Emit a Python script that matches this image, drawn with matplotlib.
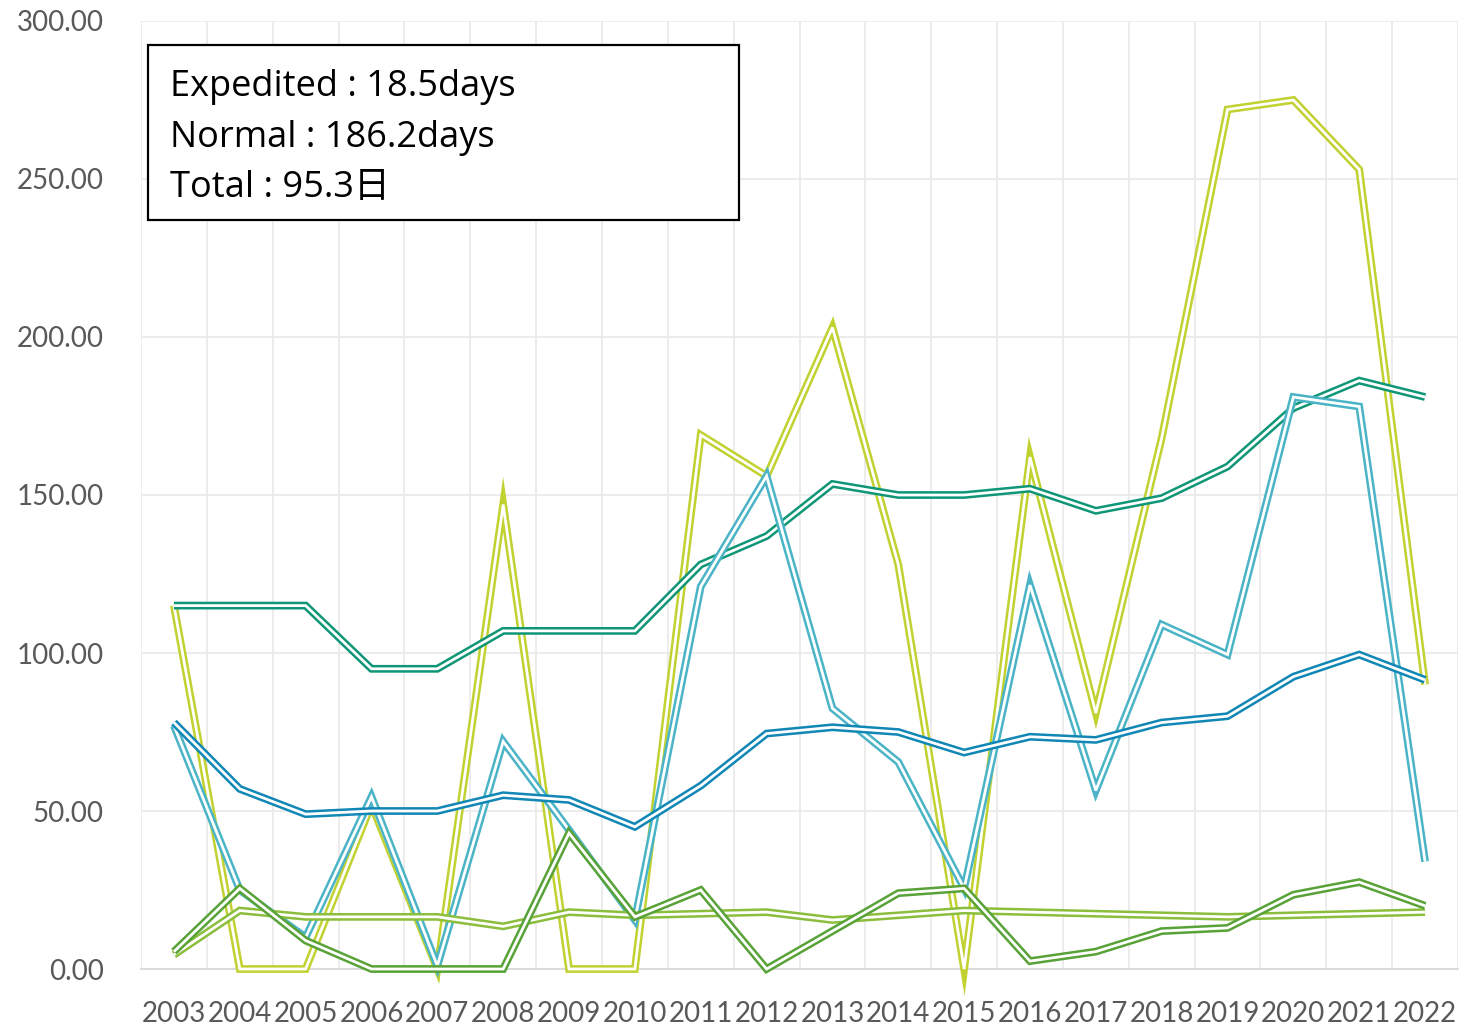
import numpy as np
import matplotlib
matplotlib.use('Agg')
import matplotlib.pyplot as plt
from matplotlib.patches import Rectangle

plt.rcParams['font.family'] = ['Lato', 'Noto Sans CJK JP', 'DejaVu Sans']

# category axis
years = [str(y) for y in range(2003, 2023)]

# series values (days)
lime = [115, 0, 0, 52, 0, 147, 0, 0, 169, 156,
        203, 128, 0, 162, 81, 168, 272, 275, 253, 90]
teal = [115, 115, 115, 95, 95, 107, 107, 107, 128, 137,
        153.5, 150, 150, 152, 145, 149, 159, 177.5, 186.2, 181]
light_blue = [77, 25, 10, 54.5, 1, 72, 44, 15.5, 121, 156,
              82.5, 65.5, 25.5, 121.5, 56.5, 109, 99.5, 181, 178, 34]
blue = [78, 57, 49, 50, 50, 55, 53.5, 45, 58, 74.5,
        76.5, 75, 68.5, 73.5, 72.5, 78, 80, 92.5, 99.5, 91.5]
light_green = [4.5, 18.5, 16.5, 16.5, 16.5, 13.5, 18, 17, 17.5, 18,
               15.5, 17, 18.5, 18, 17.5, 17, 16.5, 17, 17.5, 18]
dark_green = [5.5, 25.5, 9, 0, 0, 0, 43, 16.5, 25, 0,
              12, 24, 25.5, 2.5, 5.5, 12, 13, 23.5, 27.5, 20]

series = [(lime, '#C1D130'), (teal, '#0F9677'), (light_blue, '#4AB4C6'),
          (blue, '#1187B5'), (light_green, '#8BBE3C'), (dark_green, '#58A238')]

box_lines = ['Expedited : 18.5days', 'Normal : 186.2days', 'Total : 95.3日']

W, H = 1465, 1028
fig = plt.figure(figsize=(W / 100, H / 100), dpi=100)
ax = fig.add_axes([141 / W, (H - 969) / H, 1317 / W, 948 / H])

x = np.arange(len(years))

# "double" lines: a thick coloured stroke with a thin white core
z = 3
for vals, col in series:
    ax.plot(x, vals, color=col, lw=5.6, solid_capstyle='butt',
            solid_joinstyle='miter', clip_on=False, zorder=z)
    ax.plot(x, vals, color='white', lw=2.0, solid_capstyle='butt',
            solid_joinstyle='miter', clip_on=False, zorder=z + 0.5)
    z += 1

ax.set_xlim(-0.5, len(years) - 0.5)
ax.set_ylim(0, 300)
ax.set_yticks(np.arange(0, 301, 50))
ax.set_yticklabels(['%.2f' % v for v in np.arange(0, 301, 50)])
ax.set_xticks(x)
ax.set_xticklabels(years)
ax.set_xticks(np.arange(-0.5, len(years)), minor=True)

ax.grid(axis='y', which='major', color='#EBEBEB', lw=1.3)
ax.grid(axis='x', which='minor', color='#EBEBEB', lw=1.3)
ax.set_axisbelow(True)

for s in ['top', 'left', 'right']:
    ax.spines[s].set_visible(False)
ax.spines['bottom'].set_color('#D9D9D9')
ax.spines['bottom'].set_linewidth(1.3)

ax.tick_params(axis='both', which='both', length=0, labelsize=20,
               labelcolor='#595959')
ax.tick_params(axis='y', pad=27)
ax.tick_params(axis='x', pad=23)

# text box in the upper left
fig.patches.append(Rectangle((148 / W, (H - 220) / H), 591 / W, 175 / H,
                             transform=fig.transFigure, fill=True,
                             facecolor='white', edgecolor='black', lw=1.6,
                             zorder=10))
for i, t in enumerate(box_lines):
    fig.text(170 / W, (H - 96 - 50.5 * i) / H, t, fontsize=26,
             family=['Open Sans', 'Noto Sans CJK JP'],
             va='baseline', ha='left', color='black', zorder=11)

fig.savefig('out.png', dpi=100)
